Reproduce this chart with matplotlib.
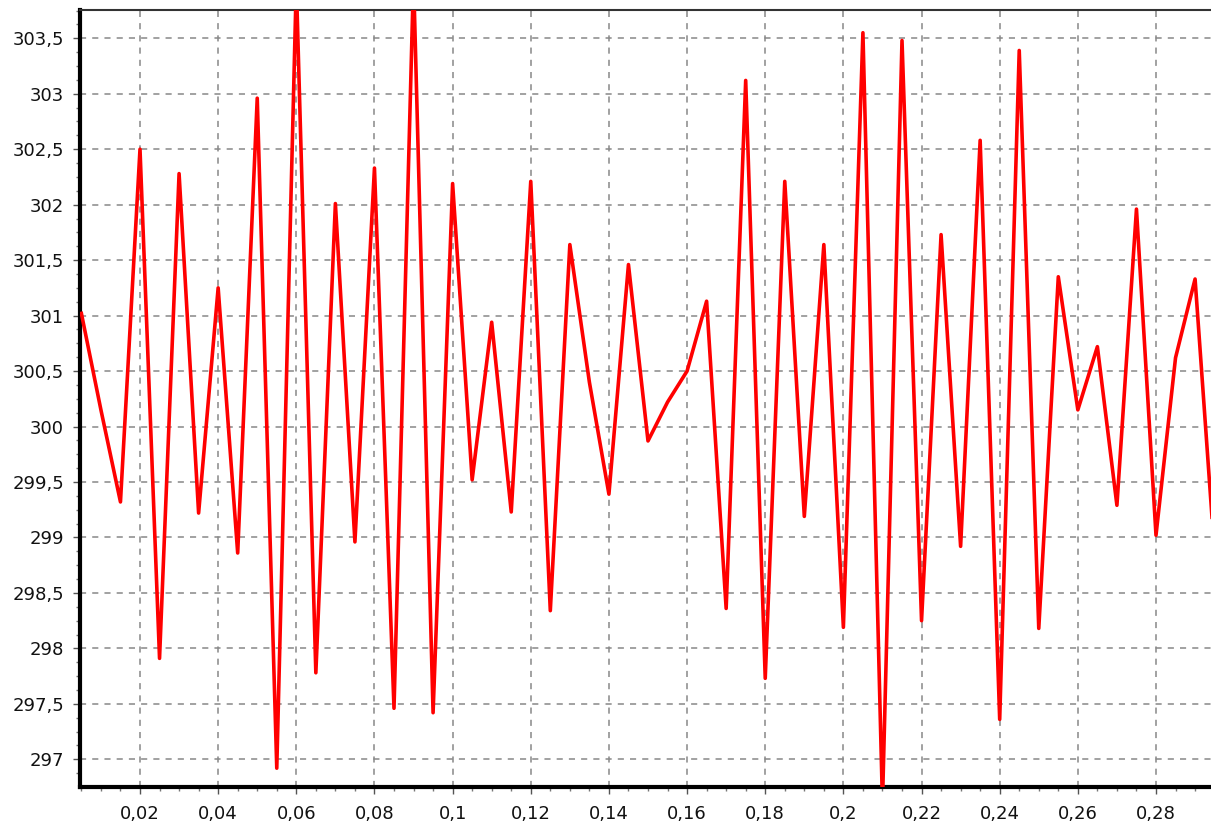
import numpy as np
import matplotlib
matplotlib.use("Agg")
import matplotlib.pyplot as plt
from matplotlib.ticker import MultipleLocator, FuncFormatter

t = [0.005, 0.010, 0.015, 0.020, 0.025, 0.030, 0.035, 0.040, 0.045, 0.050,
     0.055, 0.060, 0.065, 0.070, 0.075, 0.080, 0.085, 0.090, 0.095, 0.100,
     0.105, 0.110, 0.115, 0.120, 0.125, 0.130, 0.135, 0.140, 0.145, 0.150,
     0.155, 0.160, 0.165, 0.170, 0.175, 0.180, 0.185, 0.190, 0.195, 0.200,
     0.205, 0.210, 0.215, 0.220, 0.225, 0.230, 0.235, 0.240, 0.245, 0.250,
     0.255, 0.260, 0.265, 0.270, 0.275, 0.280, 0.285, 0.290, 0.295]
temp = [301.02, 300.15, 299.32, 302.50, 297.91, 302.28, 299.22, 301.25, 298.86, 302.96,
        296.92, 304.00, 297.78, 302.01, 298.96, 302.33, 297.46, 304.05, 297.42, 302.19,
        299.52, 300.94, 299.23, 302.21, 298.34, 301.64, 300.40, 299.39, 301.46, 299.87,
        300.22, 300.50, 301.13, 298.36, 303.12, 297.73, 302.21, 299.19, 301.64, 298.19,
        303.55, 296.60, 303.48, 298.25, 301.73, 298.92, 302.58, 297.36, 303.39, 298.18,
        301.35, 300.15, 300.72, 299.29, 301.96, 299.02, 300.62, 301.33, 298.85]

fig = plt.figure(figsize=(12.11, 8.25), dpi=100)
ax = fig.add_axes([80 / 1211, 38.3 / 825, 1131 / 1211, 776.7 / 825])

ax.plot(t, temp, color="#ff0000", lw=2.6, zorder=3)

ax.set_xlim(0.004646, 0.294075)
ax.set_ylim(296.753, 303.755)

ax.xaxis.set_major_locator(MultipleLocator(0.02))
ax.xaxis.set_minor_locator(MultipleLocator(0.005))
ax.yaxis.set_major_locator(MultipleLocator(0.5))
ax.yaxis.set_minor_locator(MultipleLocator(0.125))

comma = FuncFormatter(lambda v, p: ("%g" % round(v, 4)).replace(".", ","))
ax.xaxis.set_major_formatter(comma)
ax.yaxis.set_major_formatter(comma)

ax.grid(True, which="major", color="#888888", ls=(0, (4, 4)), lw=1.1, zorder=1)

ax.tick_params(which="major", length=5, width=1, color="#555555", labelsize=13,
               labelcolor="#111111", pad=6.5)
ax.tick_params(which="minor", length=3, width=1, color="#777777")
ax.tick_params(axis="x", which="major", pad=8.5)

for s in ["left", "bottom"]:
    ax.spines[s].set_linewidth(3)
    ax.spines[s].set_color("black")
ax.spines["top"].set_linewidth(1.5)
ax.spines["top"].set_color("#333333")
ax.spines["right"].set_visible(False)

fig.savefig("out.png", dpi=100)
